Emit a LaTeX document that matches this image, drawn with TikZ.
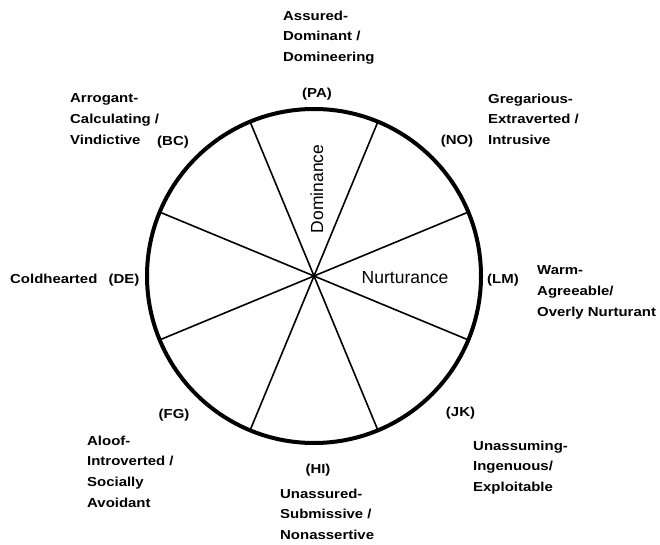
\documentclass[tikz,border=0pt]{standalone}
\usepackage{fontspec}
\usepackage{tikz}
\usetikzlibrary{calc}
\newfontfamily\lblfont[FakeStretch=1.15]{Liberation Sans}
\newfontfamily\axisfont{Liberation Sans}

\tikzset{
  trait/.style={anchor=north west, align=left, inner sep=0pt,
    font=\lblfont\bfseries\fontsize{13}{20.7}\selectfont},
  octant/.style={anchor=base, inner sep=0pt,
    font=\lblfont\bfseries\fontsize{13}{20.7}\selectfont},
  axislbl/.style={anchor=base, inner sep=0pt,
    font=\axisfont\fontsize{17.5}{20}\selectfont},
  rim/.style={line width=4pt},
  spoke/.style={line width=1.6pt}
}

\begin{document}
\begin{tikzpicture}[x=1pt, y=-1pt]
  \useasboundingbox (0,0) rectangle (660,545);
  \coordinate (c) at (314,276);
  \foreach \k in {1,...,8}
    \coordinate (s\k) at ($(c)+({22.5+45*(\k-1)}:167)$);
  \foreach \k/\m in {1/5, 2/6, 3/7, 4/8}
    \draw[spoke] (s\k) -- (s\m);
  \draw[rim] (c) circle (167);

  \node[axislbl, rotate=90] (dom) at (323,189) {Dominance};
  \node[axislbl] (nur) at (405,283) {Nurturance};

  \node[octant] (pa) at (317,97.5) {(PA)};
  \node[octant] (bc) at (173,146) {(BC)};
  \node[octant] (no) at (457,145) {(NO)};
  \node[octant] (de) at (124,283) {(DE)};
  \node[octant] (lm) at (503,283) {(LM)};
  \node[octant] (fg) at (174,418.5) {(FG)};
  \node[octant] (jk) at (460.5,416) {(JK)};
  \node[octant] (hi) at (318,473) {(HI)};

  \node[trait] (paT) at (283,10.5) {Assured-\\Dominant /\\Domineering};
  \node[trait] (bcT) at (70,93.5) {Arrogant-\\Calculating /\\Vindictive};
  \node[trait] (noT) at (488,93.5) {Gregarious-\\Extraverted /\\Intrusive};
  \node[trait, anchor=base west] (deT) at (10,283) {Coldhearted};
  \node[trait] (lmT) at (537,265.5) {Warm-\\Agreeable/\\Overly Nurturant};
  \node[trait] (fgT) at (87,435.5) {Aloof-\\Introverted /\\Socially\\Avoidant};
  \node[trait] (jkT) at (473,440.5) {Unassuming-\\Ingenuous/\\Exploitable};
  \node[trait] (hiT) at (280,488.5) {Unassured-\\Submissive /\\Nonassertive};
\end{tikzpicture}
\end{document}
